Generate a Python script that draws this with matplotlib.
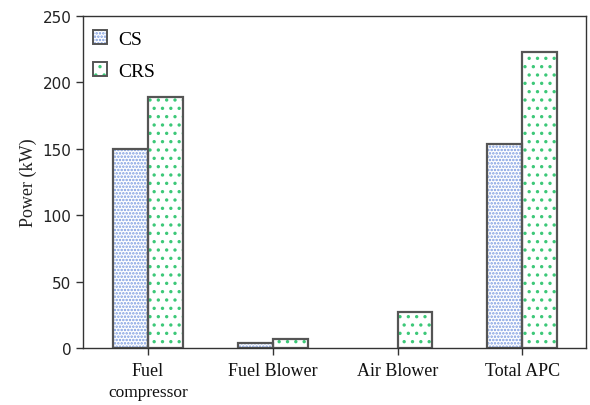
import numpy as np
import matplotlib
matplotlib.use("Agg")
import matplotlib.pyplot as plt
import matplotlib.transforms as mtransforms
from matplotlib.patches import Patch
from matplotlib.legend_handler import HandlerTuple

# APC power comparison, CS vs CRS
categories = ["Fuel", "Fuel Blower", "Air Blower", "Total APC"]
cs = [150, 4, 0, 154]
crs = [189, 7, 27, 223]

plt.rcParams['hatch.linewidth'] = 1.2

fig = plt.figure(figsize=(5.9, 4.06), dpi=100)
ax = fig.add_axes([0.141, 0.140, 0.852, 0.818])

x = np.arange(len(categories))
w = 0.28
edge = '#555555'

# hatched fills (hatch colour follows edgecolor), then outlines on top
ax.bar(x - w / 2, cs, w, color='white', edgecolor='#7b9be0', hatch='.....', linewidth=0)
ax.bar(x + w / 2, crs, w, color='white', edgecolor='#3cc878', hatch='..', linewidth=0)
o1 = ax.bar(x - w / 2, cs, w, fill=False, edgecolor=edge, linewidth=1.6)
o2 = ax.bar(x + w / 2, crs, w, fill=False, edgecolor=edge, linewidth=1.6)
for bars, vals in ((o1, cs), (o2, crs)):
    for b, v in zip(bars, vals):
        if v == 0:
            b.set_visible(False)

ax.set_xlim(-0.52, 3.51)
ax.set_ylim(0, 250)
ax.set_yticks([0, 50, 100, 150, 200, 250])
ax.set_xticks(x)
ax.set_xticklabels(categories, fontsize=13, family='Liberation Serif')
ax.tick_params(axis='x', length=5, width=1, colors='#333333', pad=5)
ax.tick_params(axis='y', length=5, width=1, colors='#333333', labelsize=11)
for lab in ax.get_yticklabels():
    lab.set_family('DejaVu Sans')
    lab.set_color('#222222')
for lab in ax.get_xticklabels():
    lab.set_color('#111111')

trans = mtransforms.blended_transform_factory(ax.transData, fig.transFigure)
ax.text(x[0], 0.012, "compressor", transform=trans, ha='center', va='bottom',
        fontsize=12.5, family='Liberation Serif', color='#111111')

ax.set_ylabel("Power (kW)", fontsize=13, family='Liberation Serif', color='#222222', labelpad=4)

for s in ax.spines.values():
    s.set_color('#333333')
    s.set_linewidth(1.0)

h_cs = (Patch(facecolor='white', edgecolor='#7b9be0', hatch='.....', linewidth=0),
        Patch(fill=False, edgecolor=edge, linewidth=1.4))
h_crs = (Patch(facecolor='white', edgecolor='#3cc878', hatch='..', linewidth=0),
         Patch(fill=False, edgecolor=edge, linewidth=1.4))
ax.legend([h_cs, h_crs], ["CS", "CRS"], loc='upper left', bbox_to_anchor=(-0.015, 1.01),
          frameon=False, handlelength=0.7, handleheight=0.7, labelspacing=0.75,
          handletextpad=0.6, prop={'family': 'Liberation Serif', 'size': 14},
          handler_map={tuple: HandlerTuple(ndivide=1)})

fig.savefig("out.png", dpi=100)
